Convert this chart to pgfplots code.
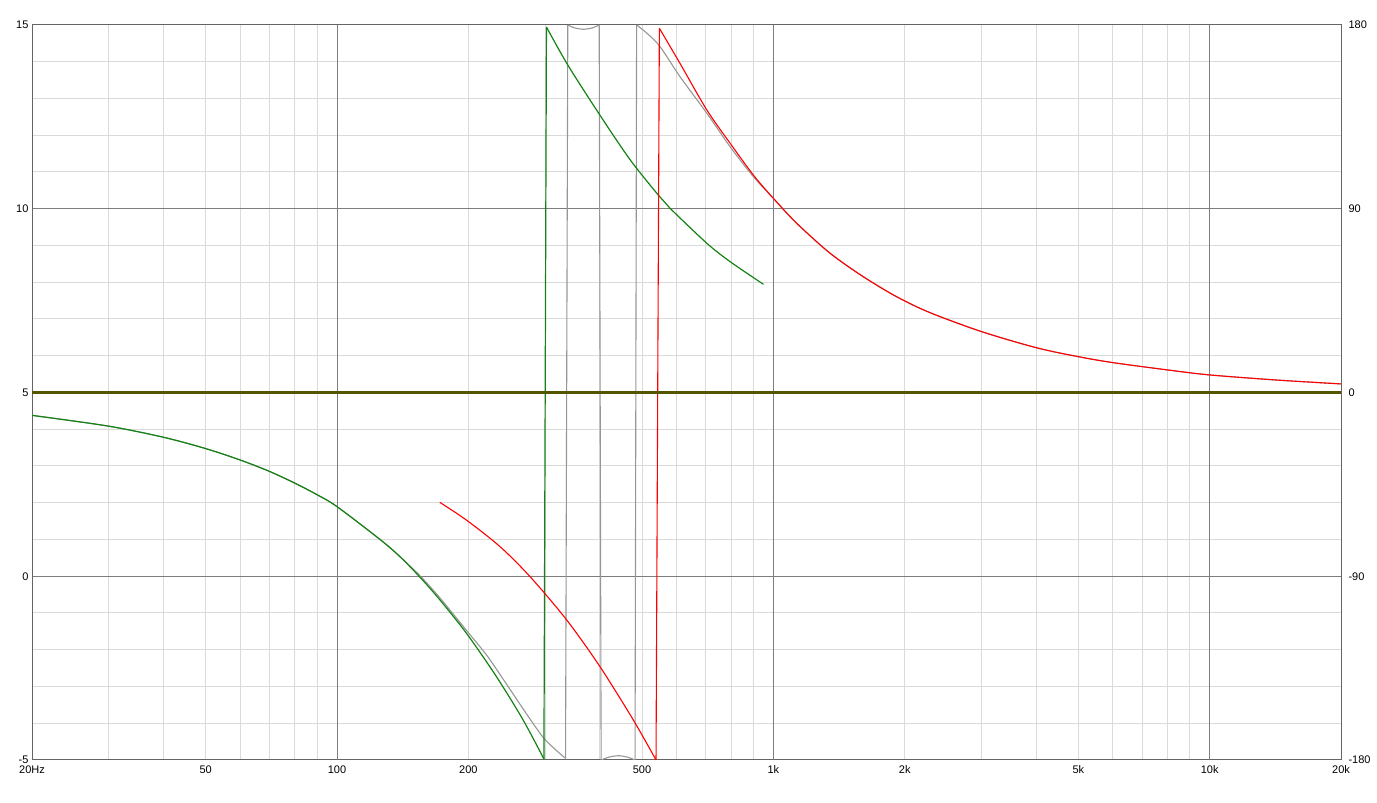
\documentclass[border=0pt]{standalone}
\usepackage{fontspec}
\setmainfont{Liberation Sans}
\usepackage{pgfplots}
\pgfplotsset{compat=1.18}
\definecolor{majgrid}{RGB}{125,125,125}
\definecolor{mingrid}{RGB}{218,218,218}
\definecolor{framec}{RGB}{100,100,100}
\definecolor{gdgreen}{RGB}{20,130,20}
\definecolor{gdred}{RGB}{255,0,0}
\definecolor{gdgray}{RGB}{150,150,150}
\definecolor{gdolive}{RGB}{85,85,0}
\begin{document}
\begin{tikzpicture}
\useasboundingbox (-32pt,-43pt) rectangle (1345pt,760pt);
\begin{axis}[
  at={(0,0)}, anchor=south west,
  scale only axis, width=1309pt, height=735pt,
  xmode=log, xmin=20, xmax=20000, ymin=-5, ymax=15,
  xtick={20,50,100,200,500,1000,2000,5000,10000,20000},
  xticklabels={20Hz,50,100,200,500,1k,2k,5k,10k,20k},
  minor xtick={30,40,50,60,70,80,90,200,300,400,500,600,700,800,900,2000,3000,4000,5000,6000,7000,8000,9000},
  extra x ticks={100,1000,10000},
  extra x tick labels={},
  extra x tick style={xmajorgrids=true},
  xmajorgrids=false, xminorgrids=true,
  ytick={-5,0,5,10,15}, yticklabels={-5,0,5,10,15},
  minor ytick={-4,-3,-2,-1,1,2,3,4,6,7,8,9,11,12,13,14},
  ymajorgrids=true, yminorgrids=true,
  major grid style={color=majgrid, line width=1pt},
  minor grid style={color=mingrid, line width=1pt},
  major tick length=0pt, minor tick length=0pt,
  axis line style={color=framec, line width=1pt},
  tick label style={font=\fontsize{11}{13}\selectfont},
  xticklabel style={yshift=-2pt},
]
\node[anchor=base, font=\fontsize{11}{13}\selectfont] at (rel axis cs:0.5,1) [yshift=7pt] {GD \& Phase};
\node[anchor=base west, font=\fontsize{11}{13}\selectfont, inner sep=0pt] at (rel axis cs:0,1) [yshift=4.5pt] {ms};
\node[anchor=base east, font=\fontsize{11}{13}\selectfont, inner sep=0pt] at (rel axis cs:1,1) [yshift=5.5pt] {deg};
\end{axis}
\begin{axis}[
  at={(0,0)}, anchor=south west,
  scale only axis, width=1309pt, height=735pt,
  xmode=log, xmin=20, xmax=20000, ymin=-180, ymax=180,
  axis x line=none, axis y line*=right,
  ytick={-180,-90,0,90,180}, yticklabels={-180,-90,0,90,180},
  major tick length=0pt, minor tick length=0pt,
  axis line style={color=framec, line width=1pt},
  tick label style={font=\fontsize{11}{13}\selectfont},
  yticklabel style={xshift=4pt},
  every axis plot/.append style={line join=round},
]
% gray
\addplot[gdgray, line width=1.1pt, smooth] coordinates {
(20,-11.2)(29.8,-16.4)(39.9,-21.85)(49.7,-27.3)(59.7,-32.9)(69.6,-38.4)(79.9,-44.3)(89.9,-50.0)(100,-55.9)(125.5,-72.0)(139.4,-80.4)(155,-89.8)(172,-100.5)(198,-116.5)(220,-128.5)(240.5,-140.5)(272,-157.5)(297,-169.0)(319,-175.5)(334,-179.2)};
\addplot[gdgray, line width=1.1pt] coordinates {(334,-179.2)(338,180)};
\addplot[gdgray, line width=1.1pt, smooth] coordinates {(338,180)(350,178.6)(368,177.9)(385,178.6)(399,180)};
\addplot[gdgray, line width=1.1pt] coordinates {(399,180)(403,-180)};
\addplot[gdgray, line width=1.1pt, smooth] coordinates {(403,-180)(420,-178.6)(442,-177.9)(463,-178.6)(482,-180)};
\addplot[gdgray, line width=1.1pt] coordinates {(482,-180)(486,180)};
\addplot[gdgray, line width=1.1pt, smooth] coordinates {
(486,180)(513,176)(550,169.4)(611,154.7)(704,136.8)(796,120.4)(900,105.7)(1000,95.1)(1131,82.9)(1349,68.2)(1608,56.7)(1917,46.9)(2286,39.1)(3002,29.8)(4012,21.9)(5012,17.5)(6015,14.6)(8043,11.0)(10000,8.6)(14245,6.1)(20000,4.2)};
% green
\addplot[gdgreen, line width=1.2pt, smooth] coordinates {
(20,-11.2)(29.8,-16.4)(39.9,-21.85)(49.7,-27.3)(59.7,-32.9)(69.6,-38.4)(79.9,-44.3)(89.9,-50.0)(100,-55.9)(125.5,-72.0)(139.4,-80.4)(155,-90.5)(172,-101.5)(198,-117.9)(232,-139.2)(267,-160.4)(298,-179.5)};
\addplot[gdgreen, line width=1.2pt] coordinates {(298,-179.5)(302,179)};
\addplot[gdgreen, line width=1.2pt, smooth] coordinates {
(302,179)(338,160.4)(399,136.4)(470,113.9)(545,96.7)(580,90.2)(704,73.1)(796,64.1)(949,53.0)};
% red
\addplot[gdred, line width=1.1pt, smooth] coordinates {
(172,-53.8)(198,-62.5)(236.4,-75.5)(277,-90.2)(336,-111.4)(400.6,-134.3)(477.6,-160.4)(538.4,-180)};
\addplot[gdred, line width=1.1pt] coordinates {(538.4,-180)(548,178.4)};
\addplot[gdred, line width=1.1pt, smooth] coordinates {
(548,178.4)(611,161.2)(704,138.4)(796,122.1)(900,106.5)(1000,95.1)(1131,82.9)(1349,68.2)(1608,56.7)(1917,46.9)(2286,39.1)(3002,29.8)(4012,21.9)(5012,17.5)(6015,14.6)(8043,11.0)(10000,8.6)(14245,6.1)(20000,4.2)};
% olive
\addplot[gdolive, line width=2.6pt] coordinates {(20,0)(20000,0)};
\end{axis}
\end{tikzpicture}
\end{document}
